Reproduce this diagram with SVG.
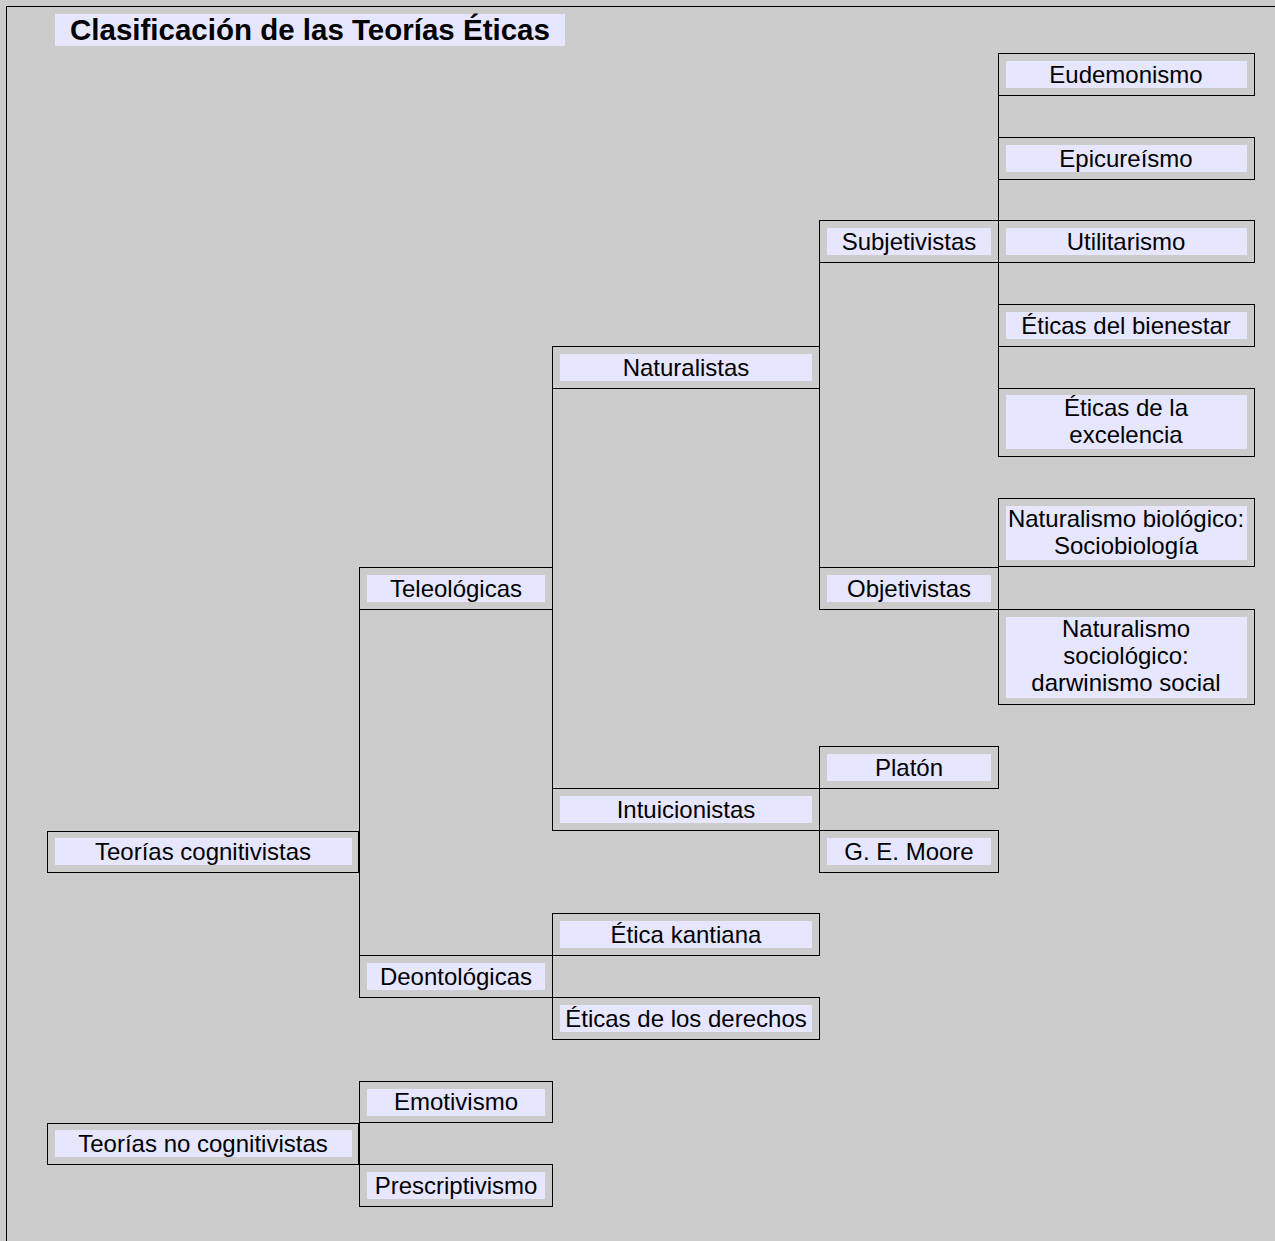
<svg xmlns="http://www.w3.org/2000/svg" width="1275" height="1241" viewBox="0 0 1275 1241">
<style>
.o{fill:none;stroke:#000;stroke-width:1}
.i{fill:#e6e6ff}
.t{font-family:"Liberation Sans",Arial,sans-serif;font-size:24px;fill:#000;text-anchor:middle}
.h{font-family:"Liberation Sans",Arial,sans-serif;font-size:29.5px;font-weight:bold;fill:#000}
.c{fill:none;stroke:#000;stroke-width:1}
</style>
<rect x="0" y="0" width="1275" height="1241" fill="#cccccc"/>
<path d="M6.5,1241 V6.5 H1275" fill="none" stroke="#000" stroke-width="1"/>
<g id="title">
<rect class="i" x="55" y="14" width="510" height="32"/>
<text class="h" x="70" y="40">Clasificación de las Teorías Éticas</text>
</g>
<g id="connectors">
<line class="c" x1="998.5" y1="95" x2="998.5" y2="388"/>
<line class="c" x1="998.5" y1="567" x2="998.5" y2="609"/>
<line class="c" x1="819.5" y1="262" x2="819.5" y2="567"/>
<line class="c" x1="819.5" y1="788" x2="819.5" y2="830"/>
<line class="c" x1="552.5" y1="388" x2="552.5" y2="788"/>
<line class="c" x1="552.5" y1="955" x2="552.5" y2="997"/>
<line class="c" x1="359.5" y1="609" x2="359.5" y2="955"/>
<line class="c" x1="359.5" y1="1122" x2="359.5" y2="1164"/>
</g>
<g id="eudemonismo">
<rect class="o" x="998.5" y="53.5" width="256" height="42"/>
<rect class="i" x="1006" y="61" width="241" height="27"/>
<text class="t" x="1126" y="83">Eudemonismo</text>
</g>
<g id="epicureismo">
<rect class="o" x="998.5" y="137.5" width="256" height="42"/>
<rect class="i" x="1006" y="145" width="241" height="27"/>
<text class="t" x="1126" y="167">Epicureísmo</text>
</g>
<g id="utilitarismo">
<rect class="o" x="998.5" y="220.5" width="256" height="42"/>
<rect class="i" x="1006" y="228" width="241" height="27"/>
<text class="t" x="1126" y="250">Utilitarismo</text>
</g>
<g id="bienestar">
<rect class="o" x="998.5" y="304.5" width="256" height="42"/>
<rect class="i" x="1006" y="312" width="241" height="27"/>
<text class="t" x="1126" y="334">Éticas del bienestar</text>
</g>
<g id="excelencia">
<rect class="o" x="998.5" y="388.5" width="256" height="68"/>
<rect class="i" x="1006" y="395" width="241" height="54"/>
<text class="t" x="1126" y="416">Éticas de la<tspan x="1126" dy="27">excelencia</tspan></text>
</g>
<g id="nat-biologico">
<rect class="o" x="998.5" y="498.5" width="256" height="68"/>
<rect class="i" x="1006" y="506" width="241" height="54"/>
<text class="t" x="1126" y="527">Naturalismo biológico:<tspan x="1126" dy="27">Sociobiología</tspan></text>
</g>
<g id="nat-sociologico">
<rect class="o" x="998.5" y="609.5" width="256" height="95"/>
<rect class="i" x="1006" y="617" width="241" height="81"/>
<text class="t" x="1126" y="637">Naturalismo<tspan x="1126" dy="27">sociológico:</tspan><tspan x="1126" dy="27">darwinismo social</tspan></text>
</g>
<g id="subjetivistas">
<rect class="o" x="819.5" y="220.5" width="179" height="42"/>
<rect class="i" x="827" y="228" width="164" height="27"/>
<text class="t" x="909" y="250">Subjetivistas</text>
</g>
<g id="objetivistas">
<rect class="o" x="819.5" y="567.5" width="179" height="42"/>
<rect class="i" x="827" y="575" width="164" height="27"/>
<text class="t" x="909" y="597">Objetivistas</text>
</g>
<g id="platon">
<rect class="o" x="819.5" y="746.5" width="179" height="42"/>
<rect class="i" x="827" y="754" width="164" height="27"/>
<text class="t" x="909" y="776">Platón</text>
</g>
<g id="moore">
<rect class="o" x="819.5" y="830.5" width="179" height="42"/>
<rect class="i" x="827" y="838" width="164" height="27"/>
<text class="t" x="909" y="860">G. E. Moore</text>
</g>
<g id="naturalistas">
<rect class="o" x="552.5" y="346.5" width="267" height="42"/>
<rect class="i" x="560" y="354" width="252" height="27"/>
<text class="t" x="686" y="376">Naturalistas</text>
</g>
<g id="intuicionistas">
<rect class="o" x="552.5" y="788.5" width="267" height="42"/>
<rect class="i" x="560" y="796" width="252" height="27"/>
<text class="t" x="686" y="818">Intuicionistas</text>
</g>
<g id="kantiana">
<rect class="o" x="552.5" y="913.5" width="267" height="42"/>
<rect class="i" x="560" y="921" width="252" height="27"/>
<text class="t" x="686" y="943">Ética kantiana</text>
</g>
<g id="derechos">
<rect class="o" x="552.5" y="997.5" width="267" height="42"/>
<rect class="i" x="560" y="1005" width="252" height="27"/>
<text class="t" x="686" y="1027">Éticas de los derechos</text>
</g>
<g id="teleologicas">
<rect class="o" x="359.5" y="567.5" width="193" height="42"/>
<rect class="i" x="367" y="575" width="178" height="27"/>
<text class="t" x="456" y="597">Teleológicas</text>
</g>
<g id="deontologicas">
<rect class="o" x="359.5" y="955.5" width="193" height="42"/>
<rect class="i" x="367" y="963" width="178" height="27"/>
<text class="t" x="456" y="985">Deontológicas</text>
</g>
<g id="emotivismo">
<rect class="o" x="359.5" y="1081.5" width="193" height="41"/>
<rect class="i" x="367" y="1089" width="178" height="27"/>
<text class="t" x="456" y="1110">Emotivismo</text>
</g>
<g id="prescriptivismo">
<rect class="o" x="359.5" y="1164.5" width="193" height="42"/>
<rect class="i" x="367" y="1172" width="178" height="27"/>
<text class="t" x="456" y="1194">Prescriptivismo</text>
</g>
<g id="cognitivistas">
<rect class="o" x="47.5" y="831.5" width="311" height="41"/>
<rect class="i" x="55" y="838" width="297" height="27"/>
<text class="t" x="203" y="860">Teorías cognitivistas</text>
</g>
<g id="no-cognitivistas">
<rect class="o" x="47.5" y="1123.5" width="311" height="41"/>
<rect class="i" x="55" y="1130" width="297" height="27"/>
<text class="t" x="203" y="1152">Teorías no cognitivistas</text>
</g>
</svg>
